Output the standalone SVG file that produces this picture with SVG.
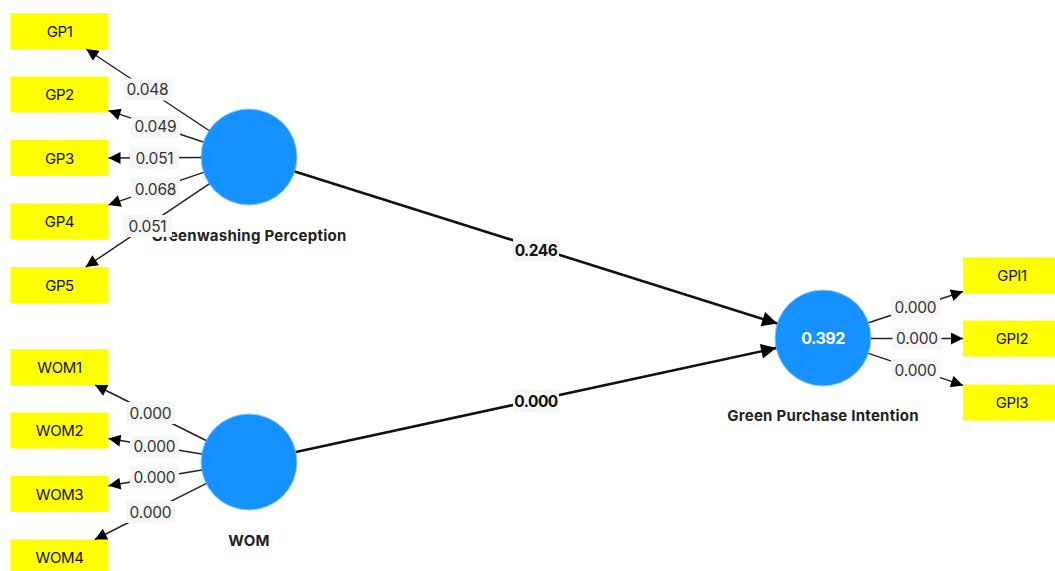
<svg xmlns="http://www.w3.org/2000/svg" width="1055" height="571" viewBox="0 0 1055 571">
  <style>
    .ind rect { fill: #ffff00; }
    .ind text { font-family: Inter, "Liberation Sans", sans-serif; font-size: 15px; fill: #111; text-anchor: middle; letter-spacing: -0.4px; }
    .lv circle { fill: #1592fd; stroke: #8cc8ff; stroke-width: 1; }
    .lv .name { font-family: Inter, "Liberation Sans", sans-serif; font-size: 15px; font-weight: bold; fill: #222; text-anchor: middle; letter-spacing: 0.25px; }
    .lv .r2 { font-family: Inter, "Liberation Sans", sans-serif; font-size: 16px; font-weight: bold; fill: #ffffff; text-anchor: middle; letter-spacing: -0.5px; }
    .meas { stroke: #222; stroke-width: 1.5; fill: none; marker-end: url(#arrS); }
    .path { stroke: #111; stroke-width: 2.6; fill: none; marker-end: url(#arrL); }
    .lbl rect { fill: #f6f6f6; }
    .lbl text { font-family: Inter, "Liberation Sans", sans-serif; font-size: 15.5px; fill: #333; text-anchor: middle; letter-spacing: -0.2px; }
    .plbl rect { fill: #f6f6f6; }
    .plbl text { font-family: Inter, "Liberation Sans", sans-serif; font-size: 15.5px; font-weight: bold; fill: #111; text-anchor: middle; letter-spacing: -0.5px; }
  </style>
  <defs>
    <marker id="arrS" viewBox="0 0 10 10" refX="10" refY="5" markerUnits="userSpaceOnUse" markerWidth="14" markerHeight="12" orient="auto">
      <path d="M0,0 L10,5 L0,10 z" fill="#000"/>
    </marker>
    <marker id="arrL" viewBox="0 0 10 10" refX="10" refY="5" markerUnits="userSpaceOnUse" markerWidth="17" markerHeight="15" orient="auto">
      <path d="M0,0 L10,5 L0,10 z" fill="#000"/>
    </marker>
  </defs>

  <rect width="1055" height="571" fill="#ffffff"/>

  <!-- Indicators: Greenwashing Perception -->
  <g id="GP1" class="ind"><rect x="10.5" y="13" width="98" height="36"/><text x="59.5" y="36.5">GP1</text></g>
  <g id="GP2" class="ind"><rect x="10.5" y="76.5" width="98" height="36"/><text x="59.5" y="100">GP2</text></g>
  <g id="GP3" class="ind"><rect x="10.5" y="140" width="98" height="36"/><text x="59.5" y="163.5">GP3</text></g>
  <g id="GP4" class="ind"><rect x="10.5" y="203.5" width="98" height="36"/><text x="59.5" y="227">GP4</text></g>
  <g id="GP5" class="ind"><rect x="10.5" y="267" width="98" height="36"/><text x="59.5" y="290.5">GP5</text></g>

  <!-- Indicators: WOM -->
  <g id="WOM1" class="ind"><rect x="10.5" y="349" width="98" height="36"/><text x="59.5" y="372.5">WOM1</text></g>
  <g id="WOM2" class="ind"><rect x="10.5" y="412.5" width="98" height="36"/><text x="59.5" y="436">WOM2</text></g>
  <g id="WOM3" class="ind"><rect x="10.5" y="476" width="98" height="36"/><text x="59.5" y="499.5">WOM3</text></g>
  <g id="WOM4" class="ind"><rect x="10.5" y="539.5" width="98" height="36"/><text x="59.5" y="563">WOM4</text></g>

  <!-- Indicators: Green Purchase Intention -->
  <g id="GPI1" class="ind"><rect x="963" y="257.5" width="98" height="36"/><text x="1012" y="281">GPI1</text></g>
  <g id="GPI2" class="ind"><rect x="963" y="320.5" width="98" height="36"/><text x="1012" y="344">GPI2</text></g>
  <g id="GPI3" class="ind"><rect x="963" y="384.5" width="98" height="36"/><text x="1012" y="408">GPI3</text></g>

  <!-- Latent variables -->
  <g id="GWP" class="lv">
    <circle cx="249" cy="157" r="48"/>
    <text class="name" x="249" y="241">Greenwashing Perception</text>
  </g>
  <g id="WOM" class="lv">
    <circle cx="249" cy="462" r="48"/>
    <text class="name" x="249" y="546">WOM</text>
  </g>
  <g id="GPI" class="lv">
    <circle cx="823" cy="338" r="48"/>
    <text class="r2" x="823" y="344">0.392</text>
    <text class="name" x="823" y="421">Green Purchase Intention</text>
  </g>

  <!-- Connectors -->
  <g id="connectors">
    <!-- outer loadings -->
    <line class="meas" x1="209" y1="130.5" x2="86.2" y2="49"/>
    <line class="meas" x1="203.4" y1="142" x2="108.5" y2="110.6"/>
    <line class="meas" x1="201" y1="157.5" x2="108.5" y2="158"/>
    <line class="meas" x1="203.5" y1="172.4" x2="108.5" y2="204.9"/>
    <line class="meas" x1="209.2" y1="183.8" x2="85.7" y2="267"/>

    <line class="meas" x1="206.1" y1="440.5" x2="95" y2="385"/>
    <line class="meas" x1="201.6" y1="454.1" x2="108.5" y2="438.6"/>
    <line class="meas" x1="201.7" y1="470" x2="108.5" y2="485.7"/>
    <line class="meas" x1="206.1" y1="483.6" x2="94.8" y2="539.5"/>

    <line class="meas" x1="868.5" y1="322.8" x2="963" y2="291.5"/>
    <line class="meas" x1="871" y1="338.5" x2="963" y2="338.5"/>
    <line class="meas" x1="868.5" y1="353.4" x2="963" y2="385.4"/>

    <!-- inner paths -->
    <line class="path" x1="294.8" y1="171.4" x2="777.2" y2="323.6"/>
    <line class="path" x1="295.9" y1="451.9" x2="776.1" y2="348.1"/>

    <!-- loading labels -->
    <g class="lbl"><rect x="123" y="78.5" width="49" height="22"/><text x="147.5" y="95">0.048</text></g>
    <g class="lbl"><rect x="131" y="115.5" width="49" height="22"/><text x="155.5" y="132">0.049</text></g>
    <g class="lbl"><rect x="130" y="147" width="49" height="22"/><text x="154.5" y="163.5">0.051</text></g>
    <g class="lbl"><rect x="131" y="178" width="49" height="22"/><text x="155.5" y="194.5">0.068</text></g>
    <g class="lbl"><rect x="123" y="215" width="49" height="22"/><text x="147.5" y="231.5">0.051</text></g>

    <g class="lbl"><rect x="126" y="402" width="49" height="22"/><text x="150.5" y="418.5">0.000</text></g>
    <g class="lbl"><rect x="130" y="435.5" width="49" height="22"/><text x="154.5" y="452">0.000</text></g>
    <g class="lbl"><rect x="130" y="466.5" width="49" height="22"/><text x="154.5" y="483">0.000</text></g>
    <g class="lbl"><rect x="126" y="501" width="49" height="22"/><text x="150.5" y="517.5">0.000</text></g>

    <g class="lbl"><rect x="891" y="296" width="49" height="22"/><text x="915.5" y="312.5">0.000</text></g>
    <g class="lbl"><rect x="892.5" y="327.5" width="49" height="22"/><text x="917" y="344">0.000</text></g>
    <g class="lbl"><rect x="891" y="359" width="49" height="22"/><text x="915.5" y="375.5">0.000</text></g>

    <!-- path coefficients -->
    <g class="plbl"><rect x="513" y="238.5" width="46" height="23"/><text x="536" y="255.5">0.246</text></g>
    <g class="plbl"><rect x="513" y="389.5" width="46" height="23"/><text x="536" y="406.5">0.000</text></g>
  </g>
</svg>
